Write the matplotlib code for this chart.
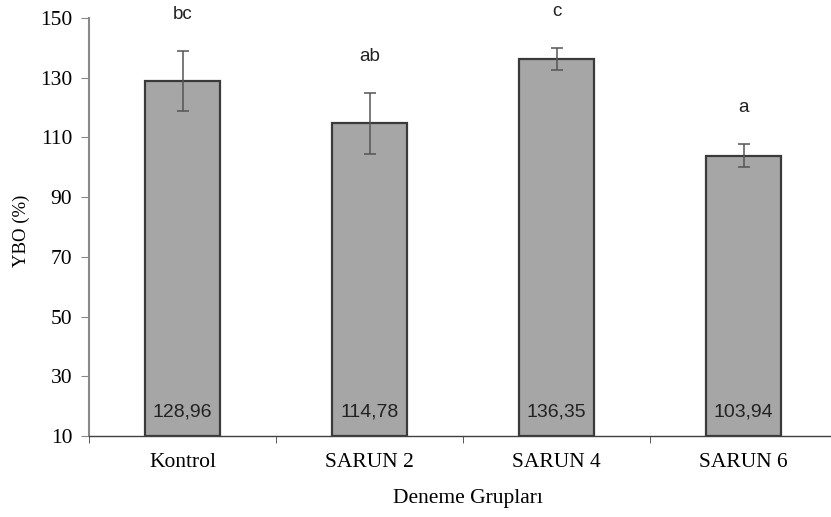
import matplotlib
matplotlib.use('Agg')
import matplotlib.pyplot as plt
import numpy as np

groups = ['Kontrol', 'SARUN 2', 'SARUN 4', 'SARUN 6']
means = [128.96, 114.78, 136.35, 103.94]
errors = [10.1, 10.2, 3.7, 4.0]
letters = ['bc', 'ab', 'c', 'a']
value_labels = ['128,96', '114,78', '136,35', '103,94']
yticks = [10, 30, 50, 70, 90, 110, 130, 150]

W, H = 831, 517
fig = plt.figure(figsize=(W / 100, H / 100), dpi=100)
ax = fig.add_axes([89 / W, (H - 436) / H, 1 - 89 / W, (436 - 18) / H])

x = np.arange(len(groups))
ax.bar(x, np.array(means) - 10, bottom=10, width=0.4, color='#A6A6A6',
       edgecolor='#3a3a3a', linewidth=1.6, zorder=2)
ax.errorbar(x, means, yerr=errors, fmt='none', ecolor='#555555',
            elinewidth=1.1, capsize=4, capthick=1.1, zorder=3)

for xi, m, e, lab, vl in zip(x, means, errors, letters, value_labels):
    ax.text(xi, m + e + 12, lab, ha='center', va='center', fontsize=13.5,
            family='Liberation Sans', color='#222222', clip_on=False)
    ax.text(xi, 18.2, vl, ha='center', va='center', fontsize=14,
            family='Liberation Sans', color='#222222')

ax.set_ylim(10, 150)
ax.set_xlim(-0.5, (W - 89) / 187 - 0.5)
ax.set_yticks(yticks)
ax.set_yticklabels([str(t) for t in yticks], family='Liberation Serif', fontsize=15.5)
ax.set_xticks(x)
ax.set_xticklabels(groups, family='Liberation Serif', fontsize=15.5)
ax.tick_params(axis='x', length=0, pad=12)
ax.set_xticks([-0.5, 0.5, 1.5, 2.5], minor=True)
ax.tick_params(axis='x', which='minor', length=5, color='#404040')
ax.tick_params(axis='y', length=6, color='#888888', pad=6)

for s in ['top', 'right']:
    ax.spines[s].set_visible(False)
ax.spines['left'].set_color('#888888')
ax.spines['left'].set_linewidth(1.5)
ax.spines['bottom'].set_color('#404040')
ax.spines['bottom'].set_linewidth(1.0)

fig.text(21 / W, 1 - 231 / H, 'YBO (%)', rotation=90, ha='center', va='center',
         family='Liberation Serif', fontsize=13.5)
fig.text(468 / W, 1 - 499 / H, 'Deneme Grupları', ha='center', va='center',
         family='Liberation Serif', fontsize=15.5)

fig.savefig('out.png', dpi=100)
